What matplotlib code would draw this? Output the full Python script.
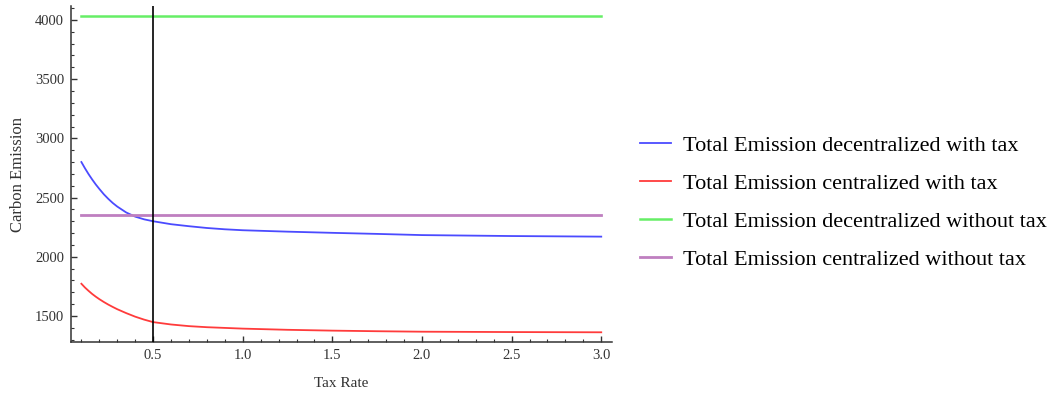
import matplotlib
matplotlib.use("Agg")
import matplotlib.pyplot as plt
from matplotlib.ticker import MultipleLocator, FixedLocator

# ---- data ----
tax_rate = [0.10, 0.12, 0.14, 0.16, 0.18, 0.20, 0.225, 0.25, 0.275, 0.30, 0.35,
            0.40, 0.45, 0.50, 0.60, 0.70, 0.80, 0.90, 1.00, 1.25, 1.50, 1.75,
            2.00, 2.50, 3.00]
decentral_tax = [2800, 2747, 2698, 2653, 2611, 2573, 2528, 2489, 2454, 2424, 2374,
                 2339, 2316, 2300, 2275, 2258, 2243, 2232, 2224, 2212, 2202, 2193,
                 2183, 2175, 2170]
central_tax = [1772, 1740, 1712, 1686, 1663, 1642, 1618, 1596, 1576, 1557, 1524,
               1494, 1469, 1448, 1428, 1414, 1405, 1399, 1393, 1383, 1376, 1371,
               1367, 1364, 1362]
decentral_notax = 4034
central_notax = 2356
tax_marker = 0.5

labels = ["Total Emission decentralized with tax",
          "Total Emission centralized with tax",
          "Total Emission decentralized without tax",
          "Total Emission centralized without tax"]
x_ticks = [0.5, 1.0, 1.5, 2.0, 2.5, 3.0]
x_ticklabels = ["0.5", "1.0", "1.5", "2.0", "2.5", "3.0"]
y_ticks = [1500, 2000, 2500, 3000, 3500, 4000]

plt.rcParams['font.family'] = ['Liberation Serif', 'DejaVu Serif']

fig = plt.figure(figsize=(10.54, 3.94), dpi=100)
ax = fig.add_axes([71/1054, 52/394, (612-71)/1054, (342-6)/394])

x0, x1 = tax_rate[0], tax_rate[-1]
l1, = ax.plot(tax_rate, decentral_tax, color='#4b4bff', lw=1.3, label=labels[0])
l2, = ax.plot(tax_rate, central_tax, color='#ff3b3b', lw=1.3, label=labels[1])
l3, = ax.plot([x0, x1], [decentral_notax]*2, color='#66ee66', lw=1.8, label=labels[2])
l4, = ax.plot([x0, x1], [central_notax]*2, color='#bf7fc0', lw=2.0, label=labels[3])
ax.axvline(tax_marker, color='black', lw=1.2, zorder=5)

ax.set_xlim(0.042, 3.06)
ax.set_ylim(1280, 4118)

for s in ['top', 'right']:
    ax.spines[s].set_visible(False)
for s in ['left', 'bottom']:
    ax.spines[s].set_linewidth(1.1)
    ax.spines[s].set_color('#333333')

ax.xaxis.set_major_locator(FixedLocator(x_ticks))
ax.set_xticklabels(x_ticklabels)
ax.xaxis.set_minor_locator(MultipleLocator(0.1))
ax.yaxis.set_major_locator(FixedLocator(y_ticks))
ax.yaxis.set_minor_locator(MultipleLocator(100))
ax.tick_params(which='both', direction='in', colors='#333333', labelcolor='#333333',
               labelsize=10.5)
ax.tick_params(which='major', length=4, width=1.0, pad=5)
ax.tick_params(which='minor', length=2.2, width=0.8)

ax.set_xlabel("Tax Rate", fontsize=11, color='#333333', labelpad=11)
ax.set_ylabel("Carbon Emission", fontsize=12, color='#333333', labelpad=6)

fig.legend(handles=[l1, l2, l3, l4], loc='upper left',
           bbox_to_anchor=(640/1054, 1 - 135/394), frameon=False,
           fontsize=16, handlelength=1.4, handletextpad=0.55,
           labelspacing=0.79, borderpad=0, borderaxespad=0)

fig.savefig("out.png", dpi=100)
